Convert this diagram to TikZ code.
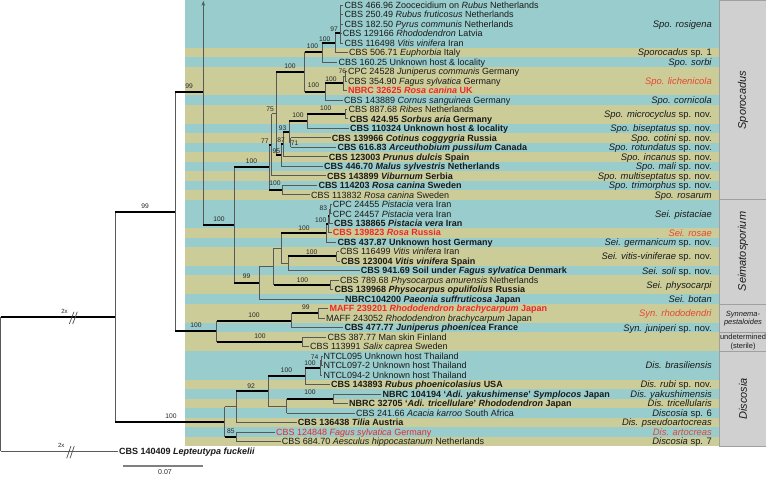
\documentclass[tikz,border=0pt]{standalone}
\usepackage{fontspec}
\setmainfont{Liberation Sans}
\usetikzlibrary{arrows.meta}
\definecolor{tealc}{HTML}{99CCCC}
\definecolor{khakic}{HTML}{CCCC99}
\definecolor{boxgray}{HTML}{D0D0D0}
\definecolor{boxedge}{HTML}{A0A0A0}
\definecolor{redleaf}{RGB}{238,40,40}
\definecolor{redlab}{RGB}{230,70,50}
\definecolor{txt}{HTML}{1A1A1A}
\newcommand\tbranch[3]{\draw[vline] (#2) -- (#2 |- #3); \draw[#1] (#2 |- #3) -- (#3);}
\tikzset{
 leaf/.style={anchor=west, inner xsep=1pt, inner ysep=0pt, text height=6.45pt, text depth=0pt, font=\fontsize{9}{10}\selectfont, text=txt},
 bleaf/.style={leaf, font=\fontsize{9}{10}\selectfont\bfseries},
 rleaf/.style={bleaf, text=redleaf},
 splab/.style={anchor=east, inner sep=0pt, text height=6.7pt, text depth=0pt, font=\fontsize{9.4}{10}\selectfont, text=txt},
 rsplab/.style={splab, text=redlab},
 bs/.style={inner sep=0pt, font=\fontsize{6.7}{7}\selectfont, text=black!85},
 vline/.style={draw=black!65, line width=0.8pt},
 thn/.style={draw=black!65, line width=0.8pt},
 thk/.style={draw=black, line width=2pt},
 cladebox/.style={fill=boxgray, draw=boxedge, line width=0.8pt},
 cladelab/.style={inner sep=0pt, font=\fontsize{11}{12}\selectfont\itshape, rotate=90, text=txt},
 smalllab/.style={inner sep=0pt, align=center, font=\fontsize{7.5}{8.5}\selectfont, text=txt},
 twox/.style={inner sep=0pt, font=\fontsize{6}{7}\selectfont, text=black!85},
 brk/.style={draw=black!70, line width=0.7pt},
 scalebar/.style={draw=black!50, line width=1.3pt},
}
\begin{document}
\begin{tikzpicture}[x=1pt,y=-1pt]
\useasboundingbox (0,0) rectangle (766,477);
\fill[white] (0,0) rectangle (766,477);
% stripes
\foreach \a/\b/\c in {1/5/tealc,6/6/khakic,7/7/tealc,8/10/khakic,11/11/tealc,12/13/khakic,14/14/tealc,15/15/khakic,16/16/tealc,17/17/khakic,18/18/tealc,19/19/khakic,20/20/tealc,21/21/khakic,22/24/tealc,25/25/khakic,26/26/tealc,27/28/khakic,29/29/tealc,30/31/khakic,32/32/tealc,33/34/khakic,35/35/tealc,36/37/khakic,38/40/tealc,41/41/khakic,42/42/tealc,43/43/khakic,44/44/tealc,45/45/khakic,46/46/tealc,47/47/khakic}
  {\fill[\c] (185,{0.255+(\a-1)*9.49}) rectangle (718.5,{0.255+\b*9.49});}
% clade boxes
\draw[cladebox] (719,0.5) rectangle (772,199.3);
\draw[cladebox] (719,199.3) rectangle (772,303.9);
\draw[cladebox] (719,303.9) rectangle (772,332.3);
\draw[cladebox] (719,332.3) rectangle (772,351.2);
\draw[cladebox] (719,351.2) rectangle (772,446.3);
\node[cladelab] (cSpo) at (743,100) {Sporocadus};
\node[cladelab] (cSei) at (743,251.5) {Seimatosporium};
\node[smalllab, font=\fontsize{7.5}{8.5}\selectfont\itshape] (cSyn) at (743,318.5) {Synnema-\\pestaloides};
\node[smalllab] (cUnd) at (743,342) {undetermined\\(sterile)};
\node[cladelab] (cDis) at (743,399) {Discosia};
% internal nodes
\coordinate (root) at (0.5,383.9);
\coordinate (A) at (115.3,316.79);
\coordinate (B) at (175,211.76);
\coordinate (C) at (203.3,92.3);
\coordinate (Ctop) at (203.3,0.8);
\coordinate (D) at (234,225.18);
\coordinate (E) at (269.3,167.405);
\coordinate (M77) at (271.7,144.755);
\coordinate (N2021) at (282.7,190.055);
\coordinate (P) at (276,113.69);
\coordinate (X1) at (304.5,72.03);
\coordinate (X2) at (322,52.45);
\coordinate (X3) at (335,42.96);
\coordinate (X4) at (340,33.47);
\coordinate (X6) at (325,91.6);
\coordinate (X7) at (343,83.29);
\coordinate (X89) at (345,76.175);
\coordinate (L95) at (281,155.36);
\coordinate (K87) at (283.3,144.385);
\coordinate (I93) at (289.3,131.93);
\coordinate (J71) at (290.5,142.605);
\coordinate (H) at (307,121.25);
\coordinate (N1213) at (345,114.135);
\coordinate (F) at (259.3,282.95);
\coordinate (G2) at (273.5,266.715);
\coordinate (G3) at (281,248.475);
\coordinate (R) at (326,233.35);
\coordinate (Q100b) at (328,224.455);
\coordinate (Q100a) at (329.3,216.15);
\coordinate (Q83) at (330.5,209.035);
\coordinate (W) at (288.3,263.6);
\coordinate (Vit) at (336.7,256.485);
\coordinate (Phy) at (330,284.955);
\coordinate (S) at (216.7,331.22);
\coordinate (T) at (291.7,320.54);
\coordinate (Rh) at (318.3,313.425);
\coordinate (U) at (302.3,341.895);
\coordinate (Z) at (224.5,421.82);
\coordinate (Z3) at (236,406.84);
\coordinate (Z4) at (268.3,391.125);
\coordinate (Y1) at (305,376.3);
\coordinate (B1) at (320,367.99);
\coordinate (B2) at (321.7,360.875);
\coordinate (Y2) at (286.7,405.95);
\coordinate (Y3) at (333.3,398.835);
\coordinate (V85) at (236,436.795);
% leaves
\node[leaf] (l1) at (343.3,5.00) {CBS 466.96 Zoocecidium on \textit{Rubus} Netherlands};
\node[leaf] (l2) at (343.3,14.49) {CBS 250.49 \textit{Rubus fruticosus} Netherlands};
\node[leaf] (l3) at (343.3,23.98) {CBS 182.50 \textit{Pyrus communis} Netherlands};
\node[leaf] (l4) at (341.7,33.47) {CBS 129166 \textit{Rhododendron} Latvia};
\node[leaf] (l5) at (343.3,42.96) {CBS 116498 \textit{Vitis vinifera} Iran};
\node[leaf] (l6) at (348,52.45) {CBS 506.71 \textit{Euphorbia} Italy};
\node[leaf] (l7) at (337.3,61.94) {CBS 160.25 Unknown host \& locality};
\node[leaf] (l8) at (346.8,71.43) {CPC 24528 \textit{Juniperus communis} Germany};
\node[leaf] (l9) at (346.8,80.92) {CBS 354.90 \textit{Fagus sylvatica} Germany};
\node[rleaf] (l10) at (346.8,90.41) {NBRC 32625 \textit{Rosa canina} UK};
\node[leaf] (l11) at (343,99.90) {CBS 143889 \textit{Cornus sanguinea} Germany};
\node[leaf] (l12) at (347.3,109.39) {CBS 887.68 \textit{Ribes} Netherlands};
\node[bleaf] (l13) at (348.3,118.88) {CBS 424.95 \textit{Sorbus aria} Germany};
\node[bleaf] (l14) at (349,128.37) {CBS 110324 Unknown host \& locality};
\node[bleaf] (l15) at (330.7,137.86) {CBS 139966 \textit{Cotinus coggygria} Russia};
\node[bleaf] (l16) at (336.3,147.35) {CBS 616.83 \textit{Arceuthobium pussilum} Canada};
\node[bleaf] (l17) at (327.7,156.84) {CBS 123003 \textit{Prunus dulcis} Spain};
\node[bleaf] (l18) at (323,166.33) {CBS 446.70 \textit{Malus sylvestris} Netherlands};
\node[bleaf] (l19) at (326,175.82) {CBS 143899 \textit{Viburnum} Serbia};
\node[bleaf] (l20) at (317.3,185.31) {CBS 114203 \textit{Rosa canina} Sweden};
\node[leaf] (l21) at (310,194.80) {CBS 113832 \textit{Rosa canina} Sweden};
\node[leaf] (l22) at (331.7,204.29) {CPC 24455 \textit{Pistacia} vera Iran};
\node[leaf] (l23) at (331.7,213.78) {CPC 24457 \textit{Pistacia} vera Iran};
\node[bleaf] (l24) at (333,223.27) {CBS 138865 \textit{Pistacia vera} Iran};
\node[rleaf] (l25) at (331.7,232.76) {CBS 139823 \textit{Rosa} Russia};
\node[bleaf] (l26) at (336.3,242.25) {CBS 437.87 Unknown host Germany};
\node[leaf] (l27) at (339,251.74) {CBS 116499 \textit{Vitis vinifera} Iran};
\node[bleaf] (l28) at (340,261.23) {CBS 123004 \textit{Vitis vinifera} Spain};
\node[bleaf] (l29) at (359.7,270.72) {CBS 941.69 Soil under \textit{Fagus sylvatica} Denmark};
\node[leaf] (l30) at (339,280.21) {CBS 789.68 \textit{Physocarpus amurensis} Netherlands};
\node[bleaf] (l31) at (333.3,289.70) {CBS 139968 \textit{Physocarpus opulifolius} Russia};
\node[bleaf] (l32) at (344,299.19) {NBRC104200 \textit{Paeonia suffruticosa} Japan};
\node[rleaf] (l33) at (328.3,308.68) {MAFF 239201 \textit{Rhododendron brachycarpum} Japan};
\node[leaf] (l34) at (325,318.17) {MAFF 243052 \textit{Rhododendron brachycarpum} Japan};
\node[bleaf] (l35) at (343.3,327.66) {CBS 477.77 \textit{Juniperus phoenicea} France};
\node[leaf] (l36) at (326.3,337.15) {CBS 387.77 Man skin Finland};
\node[leaf] (l37) at (309,346.64) {CBS 113991 \textit{Salix caprea} Sweden};
\node[leaf] (l38) at (322.3,356.13) {NTCL095 Unknown host Thailand};
\node[leaf] (l39) at (322.3,365.62) {NTCL097-2 Unknown host Thailand};
\node[leaf] (l40) at (322.3,375.11) {NTCL094-2 Unknown host Thailand};
\node[bleaf] (l41) at (330,384.60) {CBS 143893 \textit{Rubus phoenicolasius} USA};
\node[bleaf] (l42) at (381.3,394.09) {NBRC 104194 `\textit{Adi. yakushimense}' \textit{Symplocos} Japan};
\node[bleaf] (l43) at (348,403.58) {NBRC 32705 `\textit{Adi. tricellulare}' \textit{Rhododendron} Japan};
\node[leaf] (l44) at (355,413.07) {CBS 241.66 \textit{Acacia karroo} South Africa};
\node[bleaf] (l45) at (296.7,422.56) {CBS 136438 \textit{Tilia} Austria};
\node[leaf, text=redleaf] (l46) at (275,432.05) {CBS 124848 \textit{Fagus sylvatica} Germany};
\node[leaf] (l47) at (280.7,441.54) {CBS 684.70 \textit{Aesculus hippocastanum} Netherlands};
\node[bleaf] (l48) at (118,451.03) {CBS 140409 \textit{Lepteutypa fuckelii}};
% species labels
\node[splab] (s1) at (712,23.98) {\textit{Spo. rosigena}};
\node[splab] (s2) at (712,52.45) {\textit{Sporocadus} sp. 1};
\node[splab] (s3) at (712,61.94) {\textit{Spo. sorbi}};
\node[rsplab] (s4) at (712,80.92) {\textit{Spo. lichenicola}};
\node[splab] (s5) at (712,99.90) {\textit{Spo. cornicola}};
\node[splab] (s6) at (712,114.135) {\textit{Spo. microcyclus} sp. nov.};
\node[splab] (s7) at (712,128.37) {\textit{Spo. biseptatus} sp. nov.};
\node[splab] (s8) at (712,137.86) {\textit{Spo. cotini} sp. nov.};
\node[splab] (s9) at (712,147.35) {\textit{Spo. rotundatus} sp. nov.};
\node[splab] (s10) at (712,156.84) {\textit{Spo. incanus} sp. nov.};
\node[splab] (s11) at (712,166.33) {\textit{Spo. mali} sp. nov.};
\node[splab] (s12) at (712,175.82) {\textit{Spo. multiseptatus} sp. nov.};
\node[splab] (s13) at (712,185.31) {\textit{Spo. trimorphus} sp. nov.};
\node[splab] (s14) at (712,194.80) {\textit{Spo. rosarum}};
\node[splab] (s15) at (712,213.78) {\textit{Sei. pistaciae}};
\node[rsplab] (s16) at (712,232.76) {\textit{Sei. rosae}};
\node[splab] (s17) at (712,242.25) {\textit{Sei. germanicum} sp. nov.};
\node[splab] (s18) at (712,256.485) {\textit{Sei. vitis-viniferae} sp. nov.};
\node[splab] (s19) at (712,270.72) {\textit{Sei. soli} sp. nov.};
\node[splab] (s20) at (712,284.955) {\textit{Sei. physocarpi}};
\node[splab] (s21) at (712,299.19) {\textit{Sei. botan}};
\node[rsplab] (s22) at (712,313.425) {\textit{Syn. rhododendri}};
\node[splab] (s23) at (712,327.66) {\textit{Syn. juniperi} sp. nov.};
\node[splab] (s24) at (712,365.62) {\textit{Dis. brasiliensis}};
\node[splab] (s25) at (712,384.60) {\textit{Dis. rubi} sp. nov.};
\node[splab] (s26) at (712,394.09) {\textit{Dis. yakushimensis}};
\node[splab] (s27) at (712,403.58) {\textit{Dis. tricellularis}};
\node[splab] (s28) at (712,413.07) {\textit{Discosia} sp. 6};
\node[splab] (s29) at (712,422.56) {\textit{Dis. pseudoartocreas}};
\node[rsplab] (s30) at (712,432.05) {\textit{Dis. artocreas}};
\node[splab] (s31) at (712,441.54) {\textit{Discosia} sp. 7};
% branches
\tbranch{thk}{root}{A} \tbranch{thn}{root}{l48.west}
\tbranch{thk}{A}{B} \tbranch{thk}{A}{Z}
\tbranch{thk}{B}{C} \tbranch{thk}{B}{S}
\draw[vline,-{Stealth[length=5pt,width=3.6pt]}] (C) -- (Ctop);
\tbranch{thk}{C}{D}
\tbranch{thk}{D}{E} \tbranch{thk}{D}{F}
\tbranch{thk}{E}{M77} \tbranch{thk}{E}{N2021}
\tbranch{thn}{N2021}{l20.west} \tbranch{thn}{N2021}{l21.west}
\tbranch{thn}{M77}{P} \tbranch{thn}{M77}{l19.west}
\tbranch{thk}{P}{X1} \tbranch{thk}{P}{L95}
\tbranch{thk}{X1}{X2} \tbranch{thk}{X1}{X6}
\tbranch{thk}{X2}{X3} \tbranch{thn}{X2}{l7.west}
\tbranch{thk}{X3}{X4} \tbranch{thn}{X3}{l6.west}
\tbranch{thn}{X4}{l1.west} \tbranch{thn}{X4}{l2.west} \tbranch{thn}{X4}{l3.west} \tbranch{thn}{X4}{l4.west} \tbranch{thn}{X4}{l5.west}
\tbranch{thk}{X6}{X7} \tbranch{thn}{X6}{l11.west}
\tbranch{thn}{X7}{X89} \tbranch{thn}{X7}{l10.west}
\tbranch{thn}{X89}{l8.west} \tbranch{thn}{X89}{l9.west}
\tbranch{thk}{L95}{K87} \tbranch{thn}{L95}{l18.west}
\tbranch{thk}{K87}{I93} \tbranch{thn}{K87}{l17.west}
\tbranch{thk}{I93}{H} \tbranch{thn}{I93}{J71}
\tbranch{thn}{J71}{l15.west} \tbranch{thn}{J71}{l16.west}
\tbranch{thk}{H}{N1213} \tbranch{thn}{H}{l14.west}
\tbranch{thn}{N1213}{l12.west} \tbranch{thn}{N1213}{l13.west}
\tbranch{thn}{F}{G2} \tbranch{thn}{F}{l32.west}
\tbranch{thn}{G2}{G3} \tbranch{thk}{G2}{Phy}
\tbranch{thk}{G3}{R} \tbranch{thn}{G3}{W}
\tbranch{thk}{R}{Q100b} \tbranch{thn}{R}{l26.west}
\tbranch{thk}{Q100b}{Q100a} \tbranch{thn}{Q100b}{l25.west}
\tbranch{thn}{Q100a}{Q83} \tbranch{thn}{Q100a}{l24.west}
\tbranch{thn}{Q83}{l22.west} \tbranch{thn}{Q83}{l23.west}
\tbranch{thk}{W}{Vit} \tbranch{thn}{W}{l29.west}
\tbranch{thn}{Vit}{l27.west} \tbranch{thn}{Vit}{l28.west}
\tbranch{thn}{Phy}{l30.west} \tbranch{thn}{Phy}{l31.west}
\tbranch{thk}{S}{T} \tbranch{thk}{S}{U}
\tbranch{thk}{T}{Rh} \tbranch{thn}{T}{l35.west}
\tbranch{thn}{Rh}{l33.west} \tbranch{thn}{Rh}{l34.west}
\tbranch{thn}{U}{l36.west} \tbranch{thn}{U}{l37.west}
\tbranch{thn}{Z}{Z3} \tbranch{thk}{Z}{V85}
\tbranch{thk}{Z3}{Z4} \tbranch{thn}{Z3}{l45.west}
\tbranch{thk}{Z4}{Y1} \tbranch{thn}{Z4}{Y2}
\tbranch{thk}{Y1}{B1} \tbranch{thn}{Y1}{l41.west}
\tbranch{thn}{B1}{B2} \tbranch{thn}{B1}{l40.west}
\tbranch{thn}{B2}{l38.west} \tbranch{thn}{B2}{l39.west}
\tbranch{thk}{Y2}{Y3} \tbranch{thn}{Y2}{l44.west}
\tbranch{thn}{Y3}{l42.west} \tbranch{thn}{Y3}{l43.west}
\tbranch{thn}{V85}{l46.west} \tbranch{thn}{V85}{l47.west}
% support values
\node[bs] (b1) at (145,206) {99};
\node[bs] (b2) at (171,416) {100};
\node[bs] (b3) at (189,86) {99};
\node[bs] (b4) at (196,325.5) {100};
\node[bs] (b5) at (219,219.5) {100};
\node[bs] (b6) at (251.5,161.3) {100};
\node[bs] (b7) at (246.7,276.5) {99};
\node[bs] (b8) at (275,183) {100};
\node[bs] (b9) at (264.8,140.7) {77};
\node[bs] (b10) at (270.2,109) {75};
\node[bs] (b11) at (290,66) {100};
\node[bs] (b12) at (312.5,45.7) {100};
\node[bs] (b13) at (324.7,38.7) {100};
\node[bs] (b14) at (334,29.2) {97};
\node[bs] (b15) at (313.5,85) {100};
\node[bs] (b16) at (331,79) {100};
\node[bs] (b17) at (342.3,70.8) {76};
\node[bs] (b18) at (276.3,150.8) {95};
\node[bs] (b19) at (281,140.2) {87};
\node[bs] (b20) at (282.5,128.4) {93};
\node[bs] (b21) at (294.7,143) {71};
\node[bs] (b22) at (298,115) {100};
\node[bs] (b23) at (325.8,108.2) {100};
\node[bs] (b24) at (323.3,208.2) {83};
\node[bs] (b25) at (320.8,219.8) {100};
\node[bs] (b26) at (304,228) {100};
\node[bs] (b27) at (311.8,251.8) {100};
\node[bs] (b28) at (302.4,280) {100};
\node[bs] (b29) at (254,315.5) {100};
\node[bs] (b30) at (305.8,307.2) {99};
\node[bs] (b31) at (260,335.8) {100};
\node[bs] (b32) at (251,385.7) {92};
\node[bs] (b33) at (286.5,370.4) {100};
\node[bs] (b34) at (310,363.6) {100};
\node[bs] (b35) at (314.7,357) {74};
\node[bs] (b36) at (310,392.3) {100};
\node[bs] (b37) at (230.8,430.8) {85};
% breaks
\node[twox] (tx1) at (64.5,311.5) {2x};
\node[twox] (tx2) at (61.2,445.8) {2x};
\draw[brk] (69.3,324) -- (74,311.7);
\draw[brk] (72.7,324) -- (77.3,311.7);
\draw[brk] (66.7,458.3) -- (71,446);
\draw[brk] (70,458.3) -- (74.3,446);
% scale bar
\coordinate (sb1) at (123.3,466);
\coordinate (sb2) at (203.3,466);
\draw[scalebar] (sb1) -- (sb2);
\node[inner sep=0pt, font=\fontsize{7}{8}\selectfont, text=black!85] (sbl) at (165,472) {0.07};
\end{tikzpicture}
\end{document}
